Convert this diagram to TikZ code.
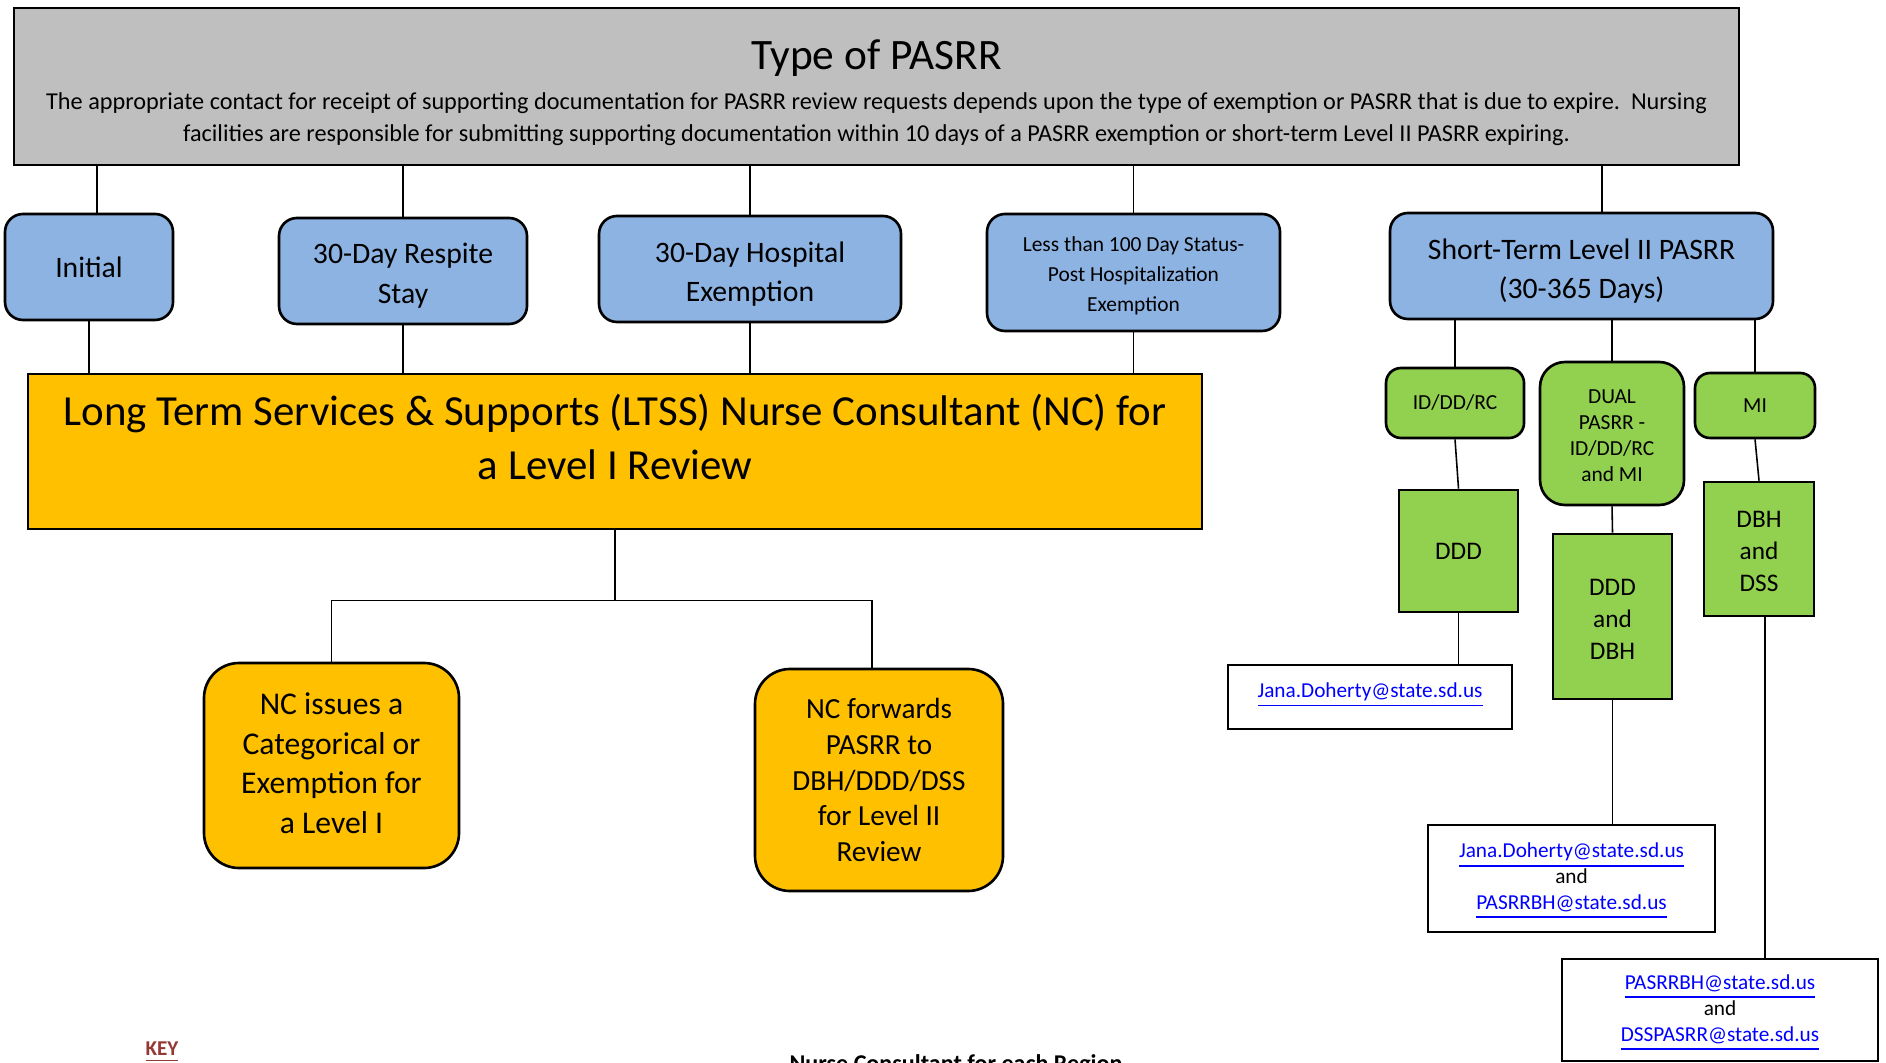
\documentclass[tikz,border=0pt]{standalone}
\usepackage{fontspec}
\setmainfont{Carlito}
\definecolor{headgray}{RGB}{191, 191, 191}
\definecolor{typeblue}{RGB}{141, 179, 226}
\definecolor{ncorange}{RGB}{255, 192, 0}
\definecolor{levelgreen}{RGB}{146, 208, 80}
\definecolor{linkblue}{RGB}{0, 0, 255}
\definecolor{keyred}{RGB}{149, 55, 53}
\usetikzlibrary{calc}
\newcommand{\fsz}[2]{\fontsize{#1}{#2}\selectfont}
\newcommand{\maillink}[1]{\textcolor{linkblue}{\underline{#1}}}
\newcommand{\strutup}[1]{\rule{0pt}{#1}}
\newcommand{\strutdown}[1]{\rule[-#1]{0pt}{#1}}

\begin{document}
\begin{tikzpicture}[
  box/.style={draw, line width=0.75pt, align=center, inner sep=0pt},
  typebox/.style={box, fill=typeblue, rounded corners=0.18cm, font=\fsz{8.45}{11.3}},
  ncbox/.style={box, fill=ncorange, rounded corners=0.35cm},
  greenbox/.style={box, fill=levelgreen, font=\fsz{7.2}{9.2}},
  levelbox/.style={box, fill=levelgreen, rounded corners=0.15cm, font=\fsz{6.1}{7.4}},
  mailbox/.style={box, fill=white, font=\fsz{6.05}{7.4}},
  wire/.style={line width=0.45pt}
]
  \useasboundingbox (0,0) rectangle (18.86,-10.63);

  % --- Header ---
  \node[box, fill=headgray] (header) at (8.765,-0.865)
    {\parbox[c][1.57cm][t]{17.25cm}{\centering\vspace*{0.315cm}%
     {\fsz{12.35}{14}Type of PASRR\par}\vspace{2.1pt}%
     \fsz{6.9}{9.24}The appropriate contact for receipt of supporting documentation for PASRR review requests depends upon the type of exemption or PASRR that is due to expire.\ \ Nursing\\
     facilities are responsible for submitting supporting documentation within 10 days of a PASRR exemption or short-term Level II PASRR expiring.\par}};

  % --- Types of PASRR ---
  \node[typebox, minimum width=1.68cm, minimum height=1.06cm] (initial) at (0.89,-2.67) {Initial};
  \node[typebox, minimum width=2.48cm, minimum height=1.06cm] (respite) at (4.03,-2.71)
    {\strutup{8.3pt}30-Day Respite\\Stay};
  \node[typebox, minimum width=3.02cm, minimum height=1.06cm] (hospital) at (7.50,-2.69)
    {\strutup{8.7pt}30-Day Hospital\\Exemption};
  \node[typebox, minimum width=2.93cm, minimum height=1.17cm, font=\fsz{6.1}{8.5}] (lessthan) at (11.335,-2.725)
    {\strutup{6pt}Less than 100 Day Status-\\Post Hospitalization\\Exemption};
  \node[typebox, minimum width=3.83cm, minimum height=1.06cm] (shortterm) at (15.815,-2.66)
    {\strutup{8.7pt}Short-Term Level II PASRR\\(30-365 Days)};

  \foreach \n/\dx in {initial/0.08, respite/0, hospital/0, lessthan/0, shortterm/0.205}
    \draw[wire] ([xshift=\dx cm]\n.north) -- ([xshift=\dx cm]\n.north |- header.south);

  % --- Level I review ---
  \node[box, fill=ncorange] (ltss) at (6.15,-4.515)
    {\parbox[c][1.55cm][t]{11.74cm}{\centering\fsz{12.2}{15.4}\vspace*{0.2cm}Long Term Services \& Supports (LTSS) Nurse Consultant (NC) for\\a Level I Review}};

  \foreach \n in {initial, respite, hospital, lessthan}
    \draw[wire] (\n.south) -- (\n.south |- ltss.north);

  \node[ncbox, minimum width=2.55cm, minimum height=2.05cm, font=\fsz{9}{11.3}] (issues) at (3.315,-7.655)
    {NC issues a\\Categorical or\\Exemption for\\a Level I\strutdown{1.4pt}};
  \node[ncbox, minimum width=2.48cm, minimum height=2.22cm, font=\fsz{8.3}{10.2}] (forwards) at (8.79,-7.80)
    {NC forwards\\PASRR to\\DBH/DDD/DSS\\for Level II\\Review};

  \draw[wire] (ltss.south) -- ++(0,-0.7) coordinate (fork);
  \draw[wire] (issues.north) |- (fork) -| ([xshift=-0.07cm]forwards.north);

  % --- Level II ---
  \node[levelbox, minimum width=1.38cm, minimum height=0.70cm] (iddd) at (14.55,-4.03) {ID/DD/RC};
  \node[levelbox, minimum width=1.44cm, minimum height=1.43cm, rounded corners=0.25cm] (dual) at (16.12,-4.335)
    {\strutup{5.3pt}DUAL\\PASRR -\\ID/DD/RC\\and MI};
  \node[levelbox, minimum width=1.20cm, minimum height=0.65cm] (mi) at (17.55,-4.055) {MI};

  \node[greenbox, minimum width=1.19cm, minimum height=1.22cm] (ddd) at (14.585,-5.51) {DDD};
  \node[greenbox, minimum width=1.19cm, minimum height=1.65cm] (ddddbh) at (16.125,-6.165)
    {\strutup{6.3pt}DDD\\and\\DBH};
  \node[greenbox, minimum width=1.10cm, minimum height=1.34cm] (dbhdss) at (17.59,-5.49)
    {\strutup{6pt}DBH\\and\\DSS};

  \node[mailbox, minimum width=2.84cm, minimum height=0.64cm, text height=4pt, text depth=4pt] (mailone) at (13.70,-6.97)
    {\maillink{Jana.Doherty@state.sd.us}};
  \node[mailbox, minimum width=2.87cm, minimum height=1.07cm] (mailtwo) at (15.715,-8.785)
    {\strutup{5.6pt}\maillink{Jana.Doherty@state.sd.us}\\and\\\maillink{PASRRBH@state.sd.us}};
  \node[mailbox, minimum width=3.16cm, minimum height=1.02cm] (mailthree) at (17.20,-10.10)
    {\strutup{5.9pt}\maillink{PASRRBH@state.sd.us}\\and\\\maillink{DSSPASRR@state.sd.us}};

  \foreach \n in {iddd, dual, mi}
    \draw[wire] (\n.north) -- (\n.north |- shortterm.south);
  \foreach \a/\b in {iddd/ddd, dual/ddddbh, mi/dbhdss}
    \draw[wire] (\a.south) -- (\b.north);
  \foreach \a/\b/\dx in {ddd/mailone/0, ddddbh/mailtwo/0, dbhdss/mailthree/0.06}
    \draw[wire] ([xshift=\dx cm]\a.south) -- ([xshift=\dx cm]\a.south |- \b.north);

  % --- Key ---
  \node[font=\fsz{6}{7}\bfseries, text=keyred] (key) at (1.62,-10.52) {\underline{KEY}};
  \node[font=\fsz{6.85}{8}\bfseries] (region) at (9.56,-10.65) {Nurse Consultant for each Region};
\end{tikzpicture}
\end{document}
